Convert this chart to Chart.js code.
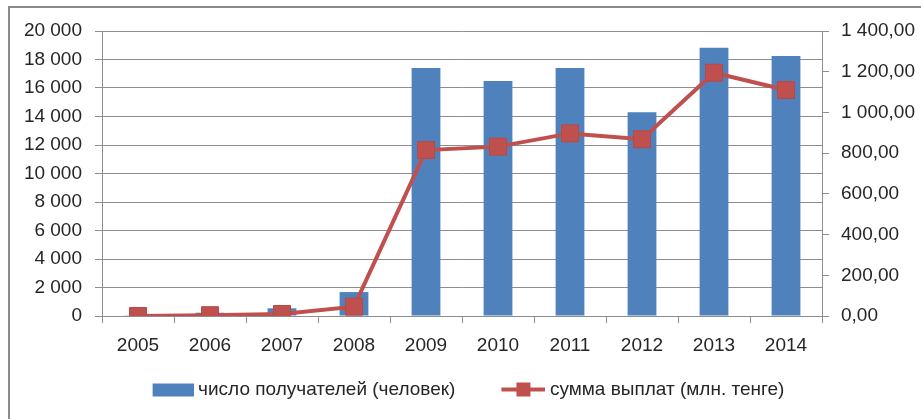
<!DOCTYPE html>
<html>
<head>
<meta charset="utf-8">
<script src="https://cdn.jsdelivr.net/npm/chart.js@4.4.0/dist/chart.umd.min.js"></script>
<style>
  html, body { margin: 0; padding: 0; background: #fff; }
  #wrap { width: 921px; height: 419px; position: relative; }
</style>
</head>
<body>
<div id="wrap"><canvas id="payChart"></canvas></div>
<script>
// data
const years = ['2005', '2006', '2007', '2008', '2009', '2010', '2011', '2012', '2013', '2014'];
const recipients = [20, 230, 540, 1680, 17400, 16490, 17400, 14290, 18830, 18250];
const payments = [0, 4, 10, 46, 815, 832, 897, 868, 1195, 1110];
const recipientsLabel = 'число получателей (человек)';
const paymentsLabel = 'сумма выплат (млн. тенге)';
const leftMax = 20000, leftStep = 2000;
const rightMax = 1400, rightStep = 200;

const blue = '#4F81BD';
const red = '#C0504D';
const gridGray = '#8e8e8e';
const textColor = '#262626';

Chart.defaults.font.family = '"Liberation Sans", Arial, sans-serif';
Chart.defaults.font.size = 19;
Chart.defaults.color = textColor;

function spaced(n) {
  return String(n).replace(/\B(?=(\d{3})+(?!\d))/g, ' ');
}

// legend swatches, drawn as small canvases
const boxW = 76;
function swatch(kind) {
  const c = document.createElement('canvas');
  c.width = boxW + 10;
  c.height = 18;
  const g = c.getContext('2d');
  if (kind === 'bar') {
    g.fillStyle = blue;
    g.fillRect(c.width - 41, 3, 41, 13);
  } else {
    g.strokeStyle = red;
    g.lineWidth = 4;
    g.beginPath();
    g.moveTo(c.width - 44, 9);
    g.lineTo(c.width, 9);
    g.stroke();
    g.fillStyle = red;
    g.fillRect(c.width - 22 - 7, 2, 14, 14);
  }
  return c;
}
const swatches = [swatch('bar'), swatch('line')];

const framePlugin = {
  id: 'frame',
  afterLayout(chart) {
    // legend sits a little left of centre in the original
    chart.legend.left -= 12;
    chart.legend.right -= 12;
  },
  beforeDraw(chart) {
    const ctx = chart.ctx;
    ctx.save();
    ctx.strokeStyle = '#8a8a8a';
    ctx.lineWidth = 2;
    ctx.strokeRect(9, 7, 1200, 1200);
    ctx.restore();
  }
};

const ctx = document.getElementById('payChart').getContext('2d');
const payChart = new Chart(ctx, {
  type: 'bar',
  data: {
    labels: years,
    datasets: [
      {
        type: 'bar',
        label: recipientsLabel,
        data: recipients,
        backgroundColor: blue,
        barPercentage: 0.4,
        categoryPercentage: 1,
        yAxisID: 'y',
        order: 1
      },
      {
        type: 'line',
        label: paymentsLabel,
        data: payments,
        borderColor: red,
        backgroundColor: red,
        borderWidth: 4,
        pointStyle: 'rect',
        pointRadius: 12,
        pointBackgroundColor: red,
        pointBorderColor: '#b54a47',
        pointBorderWidth: 1,
        tension: 0,
        yAxisID: 'y1',
        order: 0
      }
    ]
  },
  options: {
    responsive: true,
    maintainAspectRatio: false,
    animation: false,
    layout: { padding: { top: 31, left: 0, right: 0, bottom: 10 } },
    plugins: {
      tooltip: { enabled: false },
      legend: {
        position: 'bottom',
        labels: {
          usePointStyle: true,
          pointStyleWidth: boxW,
          padding: 9,
          sort: (a, b) => a.datasetIndex - b.datasetIndex,
          generateLabels(chart) {
            const items = Chart.defaults.plugins.legend.labels.generateLabels(chart);
            items.forEach(it => { it.pointStyle = swatches[it.datasetIndex]; });
            return items;
          }
        }
      }
    },
    scales: {
      x: {
        offset: true,
        grid: { offset: true, drawOnChartArea: false, color: gridGray, tickLength: 7 },
        border: { color: gridGray },
        ticks: { padding: 11 },
        afterFit(scale) { scale.height = 55; }
      },
      y: {
        position: 'left',
        min: 0,
        max: leftMax,
        ticks: { stepSize: leftStep, padding: 13, callback: v => spaced(v) },
        grid: { color: gridGray, tickLength: 7 },
        border: { color: gridGray },
        afterFit(scale) { scale.width = 102; }
      },
      y1: {
        position: 'right',
        min: 0,
        max: rightMax,
        ticks: {
          stepSize: rightStep,
          padding: 12,
          callback: v => spaced(Math.floor(v)) + ',' + v.toFixed(2).split('.')[1]
        },
        grid: { drawOnChartArea: false, color: gridGray, tickLength: 7 },
        border: { color: gridGray },
        afterFit(scale) { scale.width = 99; }
      }
    }
  },
  plugins: [framePlugin]
});
</script>
</body>
</html>
